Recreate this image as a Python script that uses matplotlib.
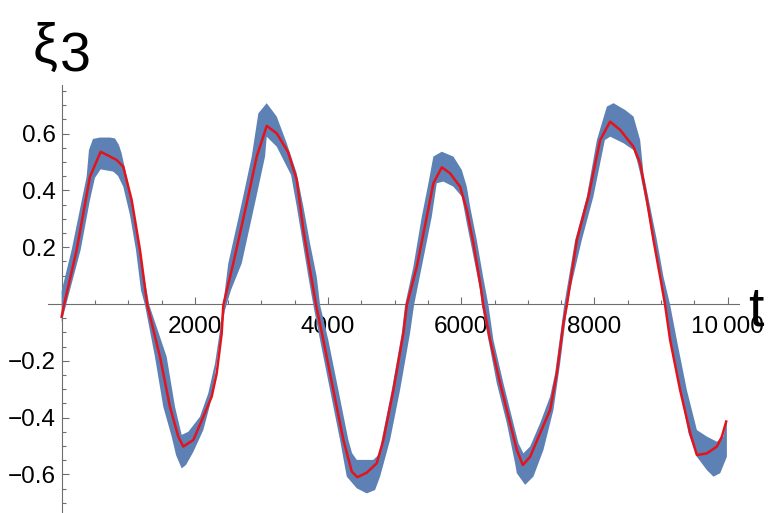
import numpy as np
import matplotlib.pyplot as plt
from matplotlib.ticker import MultipleLocator

plt.rcParams['font.family'] = ['Liberation Sans', 'DejaVu Sans']

## DATA
# mean trajectory (red line)
red_t = [0, 35, 225, 425, 586, 826, 925, 1051, 1176, 1286, 1476, 1626, 1751, 1826,
         1977, 2127, 2253, 2328, 2403, 2427, 2577, 2779, 2929, 3079, 3229, 3399,
         3530, 3629, 3729, 3820, 3929, 4079, 4230, 4356, 4440, 4581, 4731, 4830,
         4981, 5131, 5182, 5332, 5482, 5581, 5708, 5832, 5982, 6083, 6182, 6283,
         6332, 6433, 6583, 6733, 6834, 6924, 7034, 7184, 7334, 7435, 7534, 7585,
         7735, 7909, 8085, 8235, 8385, 8585, 8686, 8787, 8886, 8986, 9061, 9136,
         9286, 9437, 9538, 9688, 9838, 9913, 9978]
red_y = [-0.045, -0.004, 0.190, 0.448, 0.536, 0.507, 0.483, 0.366, 0.190, -0.004,
         -0.186, -0.362, -0.467, -0.502, -0.479, -0.397, -0.326, -0.244, -0.103,
         -0.004, 0.143, 0.355, 0.519, 0.627, 0.601, 0.535, 0.437, 0.261, 0.120,
         -0.004, -0.127, -0.303, -0.479, -0.590, -0.610, -0.594, -0.561, -0.479,
         -0.303, -0.103, -0.004, 0.131, 0.307, 0.425, 0.481, 0.460, 0.413, 0.331,
         0.214, 0.073, -0.004, -0.127, -0.279, -0.420, -0.514, -0.567, -0.538,
         -0.455, -0.373, -0.244, -0.068, -0.004, 0.225, 0.378, 0.577, 0.642, 0.613,
         0.554, 0.495, 0.366, 0.225, 0.096, -0.004, -0.127, -0.303, -0.455, -0.532,
         -0.526, -0.502, -0.467, -0.414]

# upper edge of the blue band
band_hi_t = [0, 150, 375, 410, 470, 575, 725, 800, 860, 900, 1000, 1101, 1202, 1316,
             1577, 1702, 1802, 1902, 2077, 2202, 2303, 2378, 2427, 2502, 2704, 2854,
             2953, 3079, 3229, 3380, 3530, 3629, 3729, 3830, 3880, 4004, 4155, 4305,
             4360, 4431, 4680, 4781, 4806, 4957, 5107, 5156, 5281, 5407, 5502, 5581,
             5708, 5882, 6008, 6083, 6133, 6233, 6328, 6408, 6483, 6633, 6783, 6858,
             6933, 7034, 7184, 7334, 7409, 7510, 7545, 7710, 7885, 8036, 8186, 8286,
             8461, 8586, 8686, 8736, 8836, 8937, 9036, 9137, 9237, 9387, 9538, 9688,
             9838, 9937, 9988]
band_hi_y = [0.046, 0.190, 0.448, 0.542, 0.581, 0.586, 0.586, 0.583, 0.560, 0.531,
             0.425, 0.284, 0.143, -0.004, -0.186, -0.362, -0.461, -0.450, -0.397,
             -0.314, -0.209, -0.092, 0.002, 0.143, 0.355, 0.519, 0.671, 0.707, 0.660,
             0.566, 0.460, 0.343, 0.214, 0.096, -0.004, -0.127, -0.303, -0.479, -0.525,
             -0.549, -0.549, -0.526, -0.479, -0.303, -0.103, -0.004, 0.131, 0.307,
             0.419, 0.519, 0.536, 0.519, 0.472, 0.413, 0.343, 0.225, 0.096, -0.004,
             -0.127, -0.279, -0.420, -0.490, -0.526, -0.502, -0.420, -0.326, -0.244,
             -0.068, -0.004, 0.225, 0.378, 0.577, 0.695, 0.707, 0.683, 0.660, 0.577,
             0.460, 0.343, 0.225, 0.096, -0.004, -0.127, -0.303, -0.444, -0.467,
             -0.485, -0.467, -0.408]

# lower edge of the blue band
band_lo_t = [0, 125, 285, 425, 500, 586, 775, 846, 925, 1026, 1116, 1191, 1251, 1401,
             1526, 1652, 1717, 1802, 1867, 1977, 2127, 2227, 2303, 2378, 2453, 2543,
             2704, 2903, 3054, 3079, 3229, 3445, 3530, 3629, 3704, 3779, 3880, 4030,
             4180, 4281, 4431, 4581, 4706, 4781, 4931, 5081, 5231, 5291, 5407, 5557,
             5632, 5732, 5882, 6008, 6083, 6183, 6283, 6308, 6408, 6533, 6684, 6808,
             6834, 6959, 7083, 7234, 7384, 7485, 7585, 7635, 7810, 7984, 8156, 8236,
             8436, 8586, 8636, 8686, 8786, 8886, 8986, 9061, 9137, 9287, 9412, 9538,
             9688, 9787, 9888, 9988]
band_lo_y = [-0.063, 0.049, 0.190, 0.366, 0.444, 0.474, 0.466, 0.451, 0.413, 0.313,
             0.190, 0.049, -0.004, -0.186, -0.362, -0.467, -0.532, -0.579, -0.567,
             -0.521, -0.444, -0.356, -0.250, -0.127, -0.021, 0.049, 0.143, 0.355,
             0.519, 0.589, 0.554, 0.454, 0.343, 0.202, 0.096, -0.004, -0.127, -0.303,
             -0.479, -0.608, -0.649, -0.667, -0.655, -0.608, -0.479, -0.303, -0.103,
             -0.004, 0.131, 0.307, 0.425, 0.431, 0.413, 0.378, 0.284, 0.167, 0.049,
             -0.004, -0.127, -0.279, -0.420, -0.561, -0.596, -0.637, -0.608, -0.514,
             -0.373, -0.209, -0.021, 0.049, 0.225, 0.378, 0.577, 0.589, 0.566, 0.542,
             0.507, 0.460, 0.343, 0.214, 0.096, -0.004, -0.127, -0.303, -0.455, -0.538,
             -0.585, -0.608, -0.596, -0.538]

y_ticks = [-0.6, -0.4, -0.2, 0.2, 0.4, 0.6]
y_labels = ['\u22120.6', '\u22120.4', '\u22120.2', '0.2', '0.4', '0.6']
x_ticks = [2000, 4000, 6000, 8000, 10000]
x_labels = ['2000', '4000', '6000', '8000', '10\u2009000']


## PLOT
fig = plt.figure(figsize=(7.68, 5.13), dpi=100)
ax = fig.add_axes([48 / 768, 0, 691 / 768, 428 / 513])

poly_t = np.concatenate([band_hi_t, band_lo_t[::-1]])
poly_y = np.concatenate([band_hi_y, band_lo_y[::-1]])
ax.fill(poly_t, poly_y, color='#5e81b5', lw=0, zorder=2)
ax.plot(red_t, red_y, color='#e3141c', lw=1.8, zorder=3)

ax.set_xlim(-205, 10170)
ax.set_ylim(-0.736, 0.771)

# Mathematica style axes crossing at origin
for side in ['top', 'right']:
    ax.spines[side].set_visible(False)
ax.spines['left'].set_position(('data', 0))
ax.spines['bottom'].set_position(('data', 0))
for side in ['left', 'bottom']:
    ax.spines[side].set_color('#6e6e6e')
    ax.spines[side].set_linewidth(0.8)
    ax.spines[side].set_zorder(1)

ax.set_xticks(x_ticks)
ax.set_xticklabels(x_labels)
ax.set_yticks(y_ticks)
ax.set_yticklabels(y_labels)
ax.xaxis.set_minor_locator(MultipleLocator(500))
ax.yaxis.set_minor_locator(MultipleLocator(0.05))
ax.tick_params(which='both', direction='in', color='#6e6e6e', width=0.8,
               labelsize=17.5, labelcolor='black')
ax.tick_params(which='major', length=5)
ax.tick_params(which='minor', length=3)
ax.tick_params(axis='x', which='major', pad=9)
ax.tick_params(axis='y', which='major', pad=4)

# axis names
fig.text(33 / 768, 1 - 62 / 513, '\u03be', fontsize=40, ha='left', va='baseline')
fig.text(60 / 768, 1 - 72 / 513, '3', fontsize=40, ha='left', va='baseline')
fig.text(748 / 768, 1 - 326 / 513, 't', fontsize=40, ha='left', va='baseline')

fig.savefig('out.png', dpi=100)
